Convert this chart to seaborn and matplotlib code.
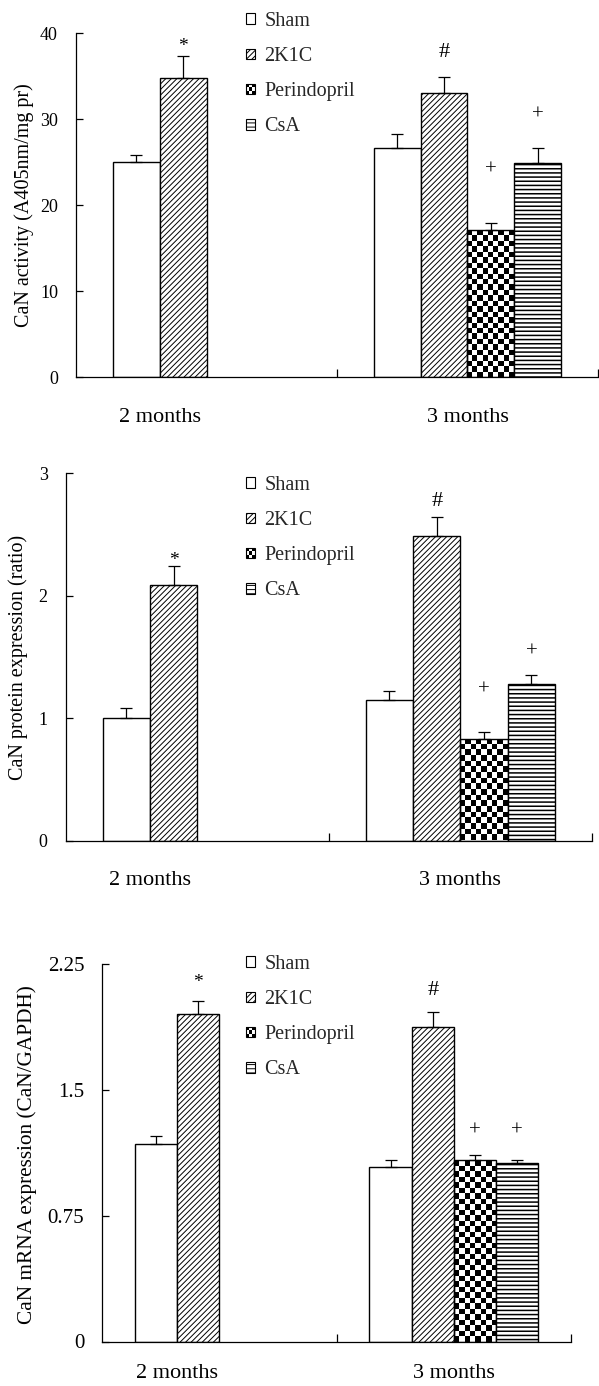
import numpy as np
import pandas as pd
import matplotlib
matplotlib.use("Agg")
import matplotlib.pyplot as plt
import matplotlib.transforms as mtransforms
import seaborn as sns
from matplotlib.patches import Rectangle, Patch

# ---------------- data ----------------
months = ["2 months", "3 months"]
groups = ["Sham", "2K1C", "Perindopril", "CsA"]

bar_month = ["2 months", "2 months", "3 months", "3 months", "3 months", "3 months"]
bar_group = ["Sham", "2K1C", "Sham", "2K1C", "Perindopril", "CsA"]

# Panel 1: CaN activity (A405nm/mg pr)
activity_mean = [25.0, 34.8, 26.7, 33.0, 17.1, 24.9]
activity_sem = [0.85, 2.6, 1.6, 1.9, 0.8, 1.8]
activity_sig = ["", "*", "", "#", "+", "+"]
activity_sig_y = [np.nan, 38.9, np.nan, 37.9, 24.6, 31.0]

# Panel 2: CaN protein expression (ratio)
protein_mean = [1.0, 2.09, 1.15, 2.49, 0.83, 1.28]
protein_sem = [0.08, 0.15, 0.07, 0.15, 0.055, 0.07]
protein_sig = ["", "*", "", "#", "+", "+"]
protein_sig_y = [np.nan, 2.32, np.nan, 2.78, 1.26, 1.57]

# Panel 3: CaN mRNA expression (CaN/GAPDH)
mrna_mean = [1.18, 1.953, 1.04, 1.874, 1.081, 1.064]
mrna_sem = [0.046, 0.075, 0.04, 0.087, 0.032, 0.017]
mrna_sig = ["", "*", "", "#", "+", "+"]
mrna_sig_y = [np.nan, 2.16, np.nan, 2.10, 1.28, 1.28]

ylabels = ["CaN activity (A405nm/mg pr)",
           "CaN protein expression (ratio)",
           "CaN mRNA expression (CaN/GAPDH)"]
yticks_list = [[0, 10, 20, 30, 40], [0, 1, 2, 3], [0, 0.75, 1.5, 2.25]]
yticklabels_list = [["0", "10", "20", "30", "40"], ["0", "1", "2", "3"],
                    ["0", "0.75", "1.5", "2.25"]]

# ---------------- style ----------------
sns.set_theme(style="white")
plt.rcParams["font.family"] = ["Liberation Serif", "DejaVu Serif"]
plt.rcParams["hatch.linewidth"] = 0.7
plt.rcParams["hatch.color"] = "black"

W, H = 599, 1386
fig = plt.figure(figsize=(W / 100, H / 100), dpi=100)
fig.patch.set_facecolor("white")

# axes boxes in pixels: left, right, top, bottom
boxes = [(76, 598, 33.3, 377),
         (65.7, 592, 473.3, 840.5),
         (102.3, 571, 964, 1341.5)]
ylabel_pos = [(24, 205), (18, 657), (27, 1155)]
legend_top = [12, 476, 955]
tick_fs = [13, 13, 15]
ylab_fs = [14.5, 14.5, 15.3]
xlab_pad = [22, 22, 16]

hatches = {"Sham": "", "2K1C": "//////", "Perindopril": None, "CsA": "----"}
sig_style = {"*": (14, -2.5), "#": (16, -1.0), "+": (15, -3.0)}  # fontsize, y offset (pt)
checker_px = 5.5


class CheckerHandler:
    def legend_artist(self, legend, orig_handle, fontsize, handlebox):
        x0, y0 = -handlebox.xdescent, -handlebox.ydescent
        w, h = handlebox.width, handlebox.height
        n = 3
        tr = handlebox.get_transform()
        for i in range(n):
            for j in range(n):
                fc = "black" if (i + j) % 2 == 0 else "white"
                handlebox.add_artist(Rectangle((x0 + i * w / n, y0 + j * h / n), w / n, h / n,
                                               facecolor=fc, edgecolor="none", transform=tr))
        border = Rectangle((x0, y0), w, h, facecolor="none", edgecolor="black",
                           lw=0.8, transform=tr)
        handlebox.add_artist(border)
        return border


panels = [
    (activity_mean, activity_sem, activity_sig, activity_sig_y, (0, 40)),
    (protein_mean, protein_sem, protein_sig, protein_sig_y, (0, 3)),
    (mrna_mean, mrna_sem, mrna_sig, mrna_sig_y, (0, 2.25)),
]

for k, (mean, sem, sig, sig_y, ylim) in enumerate(panels):
    l, r, t, b = boxes[k]
    ax = fig.add_axes([l / W, 1 - b / H, (r - l) / W, (b - t) / H])
    ax.set_facecolor("white")
    df = pd.DataFrame({"month": bar_month, "group": bar_group, "value": mean,
                       "sem": sem, "sig": sig, "sig_y": sig_y})
    sns.barplot(data=df, x="month", y="value", hue="group", order=months,
                hue_order=groups, palette={g: "white" for g in groups},
                saturation=1, width=0.72, dodge=True, errorbar=None,
                edgecolor="black", linewidth=1.0, legend=False, ax=ax)
    ax.set_xlim(-0.5, 1.5)
    ax.set_ylim(*ylim)

    bar_containers = list(ax.containers)
    label_x = {m: [] for m in months}
    for gi, cont in enumerate(bar_containers):
        g = groups[gi]
        for bar in cont:
            if not np.isfinite(bar.get_height()) or bar.get_height() == 0:
                continue
            xc = bar.get_x() + bar.get_width() / 2
            m = months[int(round(xc))]
            row = df[(df["month"] == m) & (df["group"] == g)].iloc[0]
            label_x[m].append(xc)
            bar.set_zorder(2)
            if g == "Perindopril":
                bar.set_facecolor("none")
                x0, w, h = bar.get_x(), bar.get_width(), bar.get_height()
                p0 = ax.transData.transform((x0, 0))
                p1 = ax.transData.transform((x0 + w, h))
                ncol = max(1, int(round(abs(p1[0] - p0[0]) / checker_px)))
                nrow = max(1, int(round(abs(p1[1] - p0[1]) / checker_px)))
                arr = np.add.outer(np.arange(nrow), np.arange(ncol)) % 2
                im = ax.imshow(arr, extent=(x0, x0 + w, 0, h), origin="lower",
                               cmap="gray", vmin=0, vmax=1, interpolation="nearest",
                               aspect="auto", zorder=1.5)
                im.set_clip_path(bar)
            else:
                bar.set_hatch(hatches[g])
                if g == "CsA" and hasattr(bar, "set_hatch_linewidth"):
                    bar.set_hatch_linewidth(1.1)
            ax.errorbar(xc, row["value"], yerr=[[0], [row["sem"]]], fmt="none",
                        ecolor="black", elinewidth=0.9, capsize=4, capthick=0.9,
                        zorder=3)
            if row["sig"]:
                fs, dy = sig_style[row["sig"]]
                tr = mtransforms.offset_copy(ax.transData, fig=fig, x=0, y=dy,
                                             units="points")
                ax.text(xc, row["sig_y"], row["sig"], ha="center", va="center",
                        fontsize=fs, color="black", zorder=4, transform=tr)

    ax.set_xlim(-0.5, 1.5)
    ax.set_ylim(*ylim)

    # spines
    for s in ["top", "right"]:
        ax.spines[s].set_visible(False)
    for s in ["left", "bottom"]:
        ax.spines[s].set_color("black")
        ax.spines[s].set_linewidth(0.9)

    # y axis
    ax.set_yticks(yticks_list[k])
    ax.set_yticklabels(yticklabels_list[k])
    ax.tick_params(axis="y", direction="in", length=5, width=0.9, colors="black",
                   labelsize=tick_fs[k], pad=13, left=True)

    # x axis: boundary ticks + labels at group centres
    ax.set_xticks([0.5, 1.5])
    ax.set_xticklabels(["", ""])
    ax.tick_params(axis="x", which="major", direction="in", length=6, width=0.9,
                   colors="black", bottom=True)
    ax.set_xticks([np.mean(label_x[m]) for m in months], minor=True)
    ax.set_xticklabels(months, minor=True)
    ax.tick_params(axis="x", which="minor", length=0, labelsize=16,
                   pad=xlab_pad[k], colors="black")
    ax.set_xlabel("")

    ax.set_ylabel(ylabels[k], fontsize=ylab_fs[k], color="black", va="center")
    ax.yaxis.set_label_coords(ylabel_pos[k][0] / W, 1 - ylabel_pos[k][1] / H,
                              transform=fig.transFigure)

    # legend
    h_sham = Patch(facecolor="white", edgecolor="black", lw=0.8)
    h_2k1c = Patch(facecolor="white", edgecolor="black", lw=0.8, hatch="//////")
    h_per = Patch(facecolor="white", edgecolor="black", lw=0.8)
    h_csa = Patch(facecolor="white", edgecolor="black", lw=0.8, hatch="----")
    ax.legend([h_sham, h_2k1c, h_per, h_csa], groups, loc="upper left",
              bbox_to_anchor=(246 / W, 1 - legend_top[k] / H),
              bbox_transform=fig.transFigure, frameon=False, fontsize=14.5,
              handlelength=0.45, handleheight=0.45, handletextpad=0.45,
              labelspacing=0.8, borderpad=0, borderaxespad=0,
              handler_map={h_per: CheckerHandler()})

fig.savefig("out.png", dpi=100, facecolor="white")
